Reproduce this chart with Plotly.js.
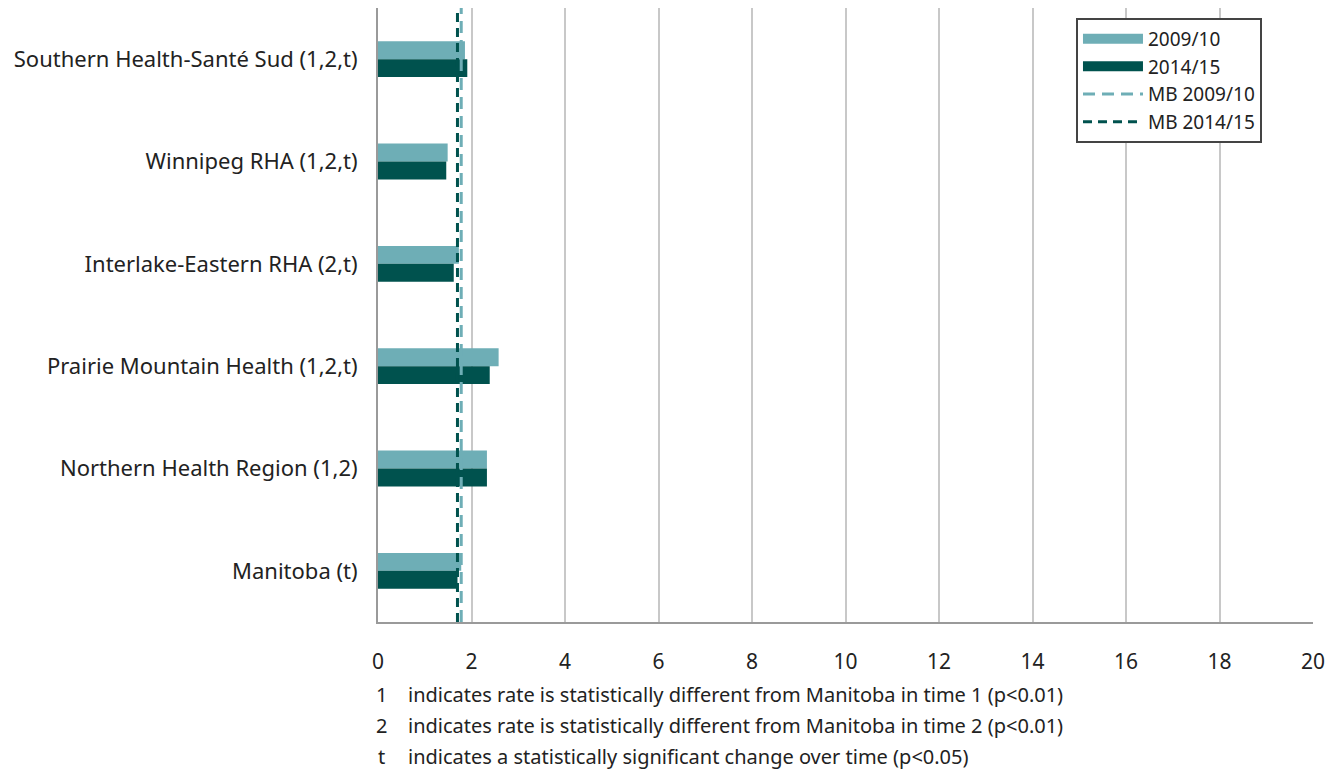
<!DOCTYPE html>
<html>
<head>
<meta charset="utf-8">
<script src="https://cdn.plot.ly/plotly-3.0.1.min.js"></script>
<style>html,body{margin:0;padding:0;background:#fff;}#chart{width:1340px;height:770px;}</style>
</head>
<body>
<div id="chart"></div>
<script>
const categories = [
  "Southern Health-Santé Sud (1,2,t)",
  "Winnipeg RHA (1,2,t)",
  "Interlake-Eastern RHA (2,t)",
  "Prairie Mountain Health (1,2,t)",
  "Northern Health Region (1,2)",
  "Manitoba (t)"
];
const rate2009 = [1.86, 1.49, 1.73, 2.58, 2.33, 1.78];
const rate2014 = [1.91, 1.46, 1.62, 2.39, 2.33, 1.70];
const mb2009 = 1.78;
const mb2014 = 1.70;
const xTicks = [0, 2, 4, 6, 8, 10, 12, 14, 16, 18, 20];
const footnotes = [
  ["1", "indicates rate is statistically different from Manitoba in time 1 (p<0.01)"],
  ["2", "indicates rate is statistically different from Manitoba in time 2 (p<0.01)"],
  ["t", "indicates a statistically significant change over time (p<0.05)"]
];

const light = "#6eaeb6";
const dark = "#00524e";
const font = "'Noto Sans', 'Open Sans', sans-serif";

const traces = [
  {type: "bar", orientation: "h", name: "2009/10", y: categories, x: rate2009,
   marker: {color: light}, hoverinfo: "x", showlegend: false},
  {type: "bar", orientation: "h", name: "2014/15", y: categories, x: rate2014,
   marker: {color: dark}, hoverinfo: "x", showlegend: false},
  // legend swatches drawn as thick lines (no data)
  {type: "scatter", mode: "lines", name: "2009/10", x: [null], y: [null],
   line: {color: light, width: 12}},
  {type: "scatter", mode: "lines", name: "2014/15", x: [null], y: [null],
   line: {color: dark, width: 12}},
  {type: "scatter", mode: "lines", name: "MB 2009/10", x: [mb2009, mb2009], y: [0, 1],
   yaxis: "y2", line: {color: light, width: 3, dash: "12px,7px"}},
  {type: "scatter", mode: "lines", name: "MB 2014/15", x: [mb2014, mb2014], y: [0, 1],
   yaxis: "y2", line: {color: dark, width: 3, dash: "9px,6px"}}
];

const annotations = [];
footnotes.forEach((f, i) => {
  const y = 694 + i * 31;
  annotations.push({xref: "paper", yref: "paper", x: (381 - 378) / 935, xanchor: "center",
    y: 1 - (y - 8) / 614, yanchor: "middle", text: f[0], showarrow: false,
    font: {family: font, size: 20, color: "#222"}});
  annotations.push({xref: "paper", yref: "paper", x: (406 - 378) / 935, xanchor: "left",
    y: 1 - (y - 8) / 614, yanchor: "middle", text: f[1].replace(/</g, "&lt;"), showarrow: false,
    font: {family: font, size: 20, color: "#222"}});
});

const layout = {
  width: 1340, height: 770,
  margin: {l: 378, r: 27, t: 8, b: 148},
  paper_bgcolor: "#fff", plot_bgcolor: "#fff",
  font: {family: font, color: "#222"},
  barmode: "group", bargap: 0.65, bargroupgap: 0,
  showlegend: true,
  legend: {x: 0.7465, y: 0.984, xanchor: "left", yanchor: "top",
    bgcolor: "#fff", bordercolor: "#444", borderwidth: 2,
    font: {family: font, size: 19, color: "#222"},
    tracegroupgap: 0, itemwidth: 60},
  xaxis: {range: [0, 20], tickvals: xTicks, ticktext: xTicks.map(String),
    showgrid: true, gridcolor: "#c8c8c8", gridwidth: 2,
    showline: true, linecolor: "#9a9a9a", linewidth: 2, zeroline: false,
    ticks: "", ticklabelstandoff: 20,
    tickfont: {family: font, size: 21, color: "#222"}, fixedrange: true},
  yaxis: {type: "category", autorange: "reversed", showgrid: false,
    showline: true, linecolor: "#9a9a9a", linewidth: 2, zeroline: false,
    ticks: "", ticklabelstandoff: 14,
    tickfont: {family: font, size: 22, color: "#222"}, fixedrange: true},
  yaxis2: {overlaying: "y", range: [0, 1], visible: false, fixedrange: true},
  annotations: annotations
};

Plotly.newPlot("chart", traces, layout, {displayModeBar: false, staticPlot: true});
</script>
</body>
</html>
